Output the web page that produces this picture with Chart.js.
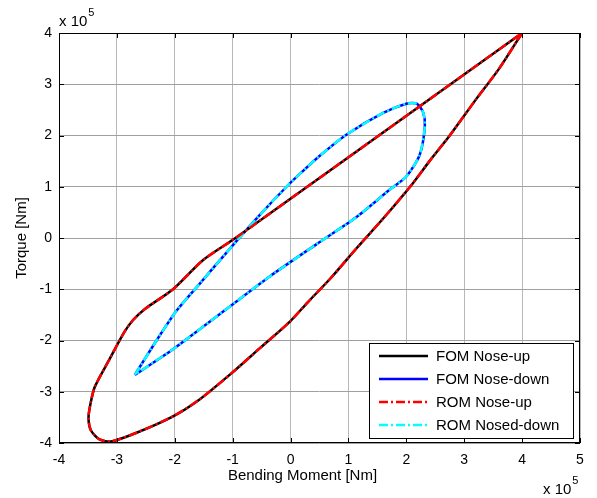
<!DOCTYPE html>
<html>
<head>
<meta charset="utf-8">
<script src="https://cdn.jsdelivr.net/npm/chart.js@4.4.0/dist/chart.umd.min.js"></script>
<style>
  html, body { margin: 0; padding: 0; background: #fff; }
  #wrap { position: relative; width: 597px; height: 498px; }
</style>
</head>
<body>
<div id="wrap"><canvas id="chart" width="597" height="498"></canvas></div>
<script>
// values in units of 10^5 Nm
const xTicks = [-4, -3, -2, -1, 0, 1, 2, 3, 4, 5];
const yTicks = [-4, -3, -2, -1, 0, 1, 2, 3, 4];
const seriesLabels = ['FOM Nose-up', 'FOM Nose-down', 'ROM Nose-up', 'ROM Nosed-down'];
const xTitle = 'Bending Moment [Nm]';
const yTitle = 'Torque [Nm]';

// nose-up loop: lower branch from the top-right corner, round the bottom, back up the straight upper branch
const noseUpX = [4.00, 3.60, 3.20, 2.75, 2.40, 2.10, 1.60, 1.14, 0.68, 0.30, -0.01, -0.53, -1.00, -1.56, -2.03, -2.66, -3.10, -3.30, -3.45, -3.49, -3.45, -3.38, -3.12, -2.88, -2.72, -2.51, -2.03, -1.51, -0.95, 4.00];
const noseUpY = [4.00, 3.30, 2.70, 2.00, 1.50, 1.05, 0.38, -0.20, -0.80, -1.25, -1.63, -2.15, -2.62, -3.14, -3.48, -3.80, -3.97, -3.93, -3.75, -3.50, -3.20, -2.90, -2.35, -1.85, -1.60, -1.38, -1.00, -0.43, 0.00, 4.00];

// nose-down loop: from the lower-left tip, up the upper branch, round the peak, back down
const noseDownX = [-2.69, -2.31, -1.97, -1.56, -1.08, -0.53, -0.07, 0.16, 0.50, 0.97, 1.60, 2.00, 2.18, 2.29, 2.32, 2.23, 2.00, 1.72, 1.14, 0.45, -0.36, -1.10, -2.03, -2.69];
const noseDownY = [-2.67, -1.99, -1.42, -0.88, -0.25, 0.45, 1.00, 1.25, 1.60, 2.02, 2.44, 2.62, 2.62, 2.45, 2.18, 1.62, 1.20, 0.95, 0.41, -0.12, -0.75, -1.38, -2.17, -2.67];

const pts = (xs, ys) => xs.map((x, i) => ({ x: x, y: ys[i] }));
const FONT = 'Arial, "Liberation Sans", sans-serif';

const frame = {
  id: 'frame',
  afterDraw(chart) {
    const { ctx, chartArea: a, scales } = chart;
    ctx.save();
    ctx.strokeStyle = '#000';
    ctx.lineWidth = 1;
    ctx.setLineDash([]);
    ctx.strokeRect(a.left + 0.5, a.top + 0.5, a.right - a.left - 1, a.bottom - a.top - 1);
    // inward ticks like matlab
    ctx.beginPath();
    scales.x.ticks.forEach(t => {
      const px = Math.round(scales.x.getPixelForValue(t.value)) + 0.5;
      ctx.moveTo(px, a.bottom); ctx.lineTo(px, a.bottom - 5);
      ctx.moveTo(px, a.top); ctx.lineTo(px, a.top + 5);
    });
    scales.y.ticks.forEach(t => {
      const py = Math.round(scales.y.getPixelForValue(t.value)) + 0.5;
      ctx.moveTo(a.left, py); ctx.lineTo(a.left + 5, py);
      ctx.moveTo(a.right, py); ctx.lineTo(a.right - 5, py);
    });
    ctx.stroke();

    // x label sits a little left of the axes centre in the original
    ctx.fillStyle = '#000';
    ctx.font = '15px ' + FONT;
    ctx.textAlign = 'center';
    ctx.textBaseline = 'middle';
    ctx.fillText(xTitle, (a.left + a.right) / 2 - 17, a.bottom + 33);

    // exponent labels
    ctx.textBaseline = 'alphabetic';
    ctx.textAlign = 'left';
    const expo = (x, y) => {
      ctx.font = '15px ' + FONT;
      ctx.fillText('x 10', x, y);
      const w = ctx.measureText('x 10').width;
      ctx.font = '11px ' + FONT;
      ctx.fillText('5', x + w + 1, y - 10);
    };
    expo(a.left, 26);
    expo(a.right - 37, 494);

    // legend box inside the axes, bottom right
    const bw = 204, bh = 95;
    const bx = a.right - 7 - bw, by = a.bottom - 5 - bh;
    ctx.fillStyle = '#fff';
    ctx.fillRect(bx, by, bw, bh);
    ctx.strokeRect(bx + 0.5, by + 0.5, bw, bh);
    ctx.font = '15px ' + FONT;
    ctx.textBaseline = 'middle';
    chart.data.datasets.forEach((ds, i) => {
      const y = by + 13 + i * 23;
      ctx.strokeStyle = ds.borderColor;
      ctx.lineWidth = ds.borderWidth;
      ctx.setLineDash(ds.borderDash || []);
      ctx.beginPath();
      ctx.moveTo(bx + 10, y);
      ctx.lineTo(bx + 59, y);
      ctx.stroke();
      ctx.fillStyle = '#000';
      ctx.fillText(ds.label, bx + 67, y + 1);
    });
    ctx.restore();
  }
};

const dashDot = [9, 3, 2, 3];

new Chart(document.getElementById('chart'), {
  type: 'scatter',
  data: {
    datasets: [
      { label: seriesLabels[0], data: pts(noseUpX, noseUpY), borderColor: '#000000', borderWidth: 2.5, order: 1 },
      { label: seriesLabels[1], data: pts(noseDownX, noseDownY), borderColor: '#0000ff', borderWidth: 2.5, order: 1 },
      { label: seriesLabels[2], data: pts(noseUpX, noseUpY), borderColor: '#ff0000', borderWidth: 2.5, borderDash: dashDot, order: 0 },
      { label: seriesLabels[3], data: pts(noseDownX, noseDownY), borderColor: '#00ffff', borderWidth: 2.5, borderDash: dashDot, order: 0 }
    ].map(d => Object.assign(d, { showLine: true, pointRadius: 0, pointHoverRadius: 0, tension: 0.25, fill: false }))
  },
  options: {
    responsive: false,
    animation: false,
    events: [],
    layout: { padding: { left: 0, top: 33, right: 17, bottom: 0 } },
    plugins: { legend: { display: false }, tooltip: { enabled: false } },
    scales: {
      x: {
        type: 'linear',
        min: -4, max: 5,
        afterBuildTicks: s => { s.ticks = xTicks.map(v => ({ value: v })); },
        afterFit: s => { s.height = 55; },
        ticks: { autoSkip: false, maxRotation: 0, color: '#000', font: { family: FONT, size: 14 }, padding: 9 },
        grid: { color: '#b8b8b8', lineWidth: 1, drawTicks: false },
        border: { display: false },
        title: { display: false }
      },
      y: {
        type: 'linear',
        min: -4, max: 4,
        afterBuildTicks: s => { s.ticks = yTicks.map(v => ({ value: v })); },
        afterFit: s => { s.width = 59; },
        ticks: { autoSkip: false, color: '#000', font: { family: FONT, size: 14 }, padding: 7 },
        grid: { color: '#a0a0a0', lineWidth: 1, drawTicks: false },
        border: { display: false },
        title: { display: true, text: yTitle, color: '#000', font: { family: FONT, size: 15 }, padding: { top: 13, bottom: 0 } }
      }
    }
  },
  plugins: [frame]
});
</script>
</body>
</html>
